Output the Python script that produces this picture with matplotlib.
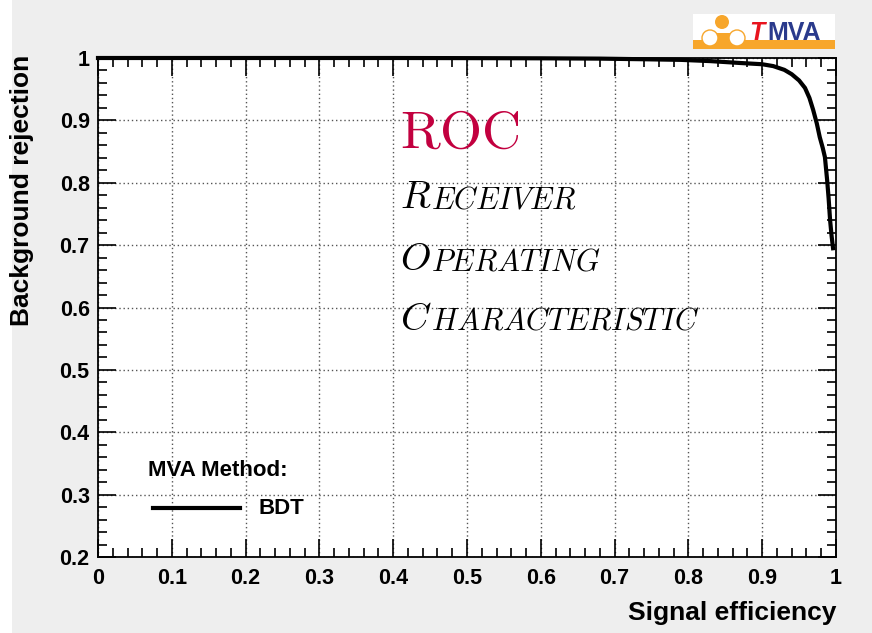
import numpy as np
import matplotlib
matplotlib.use("Agg")
import matplotlib.pyplot as plt
from matplotlib.patches import Rectangle, Circle
from matplotlib.ticker import MultipleLocator

# ROC curve of the BDT classifier
sig_eff = [0.0, 0.1, 0.2, 0.3, 0.4, 0.5, 0.6, 0.68, 0.74, 0.79, 0.83, 0.87,
           0.90, 0.915, 0.93, 0.94, 0.95, 0.958, 0.964, 0.969, 0.974, 0.978,
           0.982, 0.985, 0.988, 0.990, 0.992, 0.994, 0.996]
bkg_rej = [1.0, 1.0, 1.0, 1.0, 1.0, 0.9998, 0.9995, 0.999, 0.998, 0.997,
           0.995, 0.992, 0.990, 0.987, 0.981, 0.974, 0.964, 0.952, 0.936,
           0.917, 0.895, 0.873, 0.856, 0.841, 0.804, 0.775, 0.740, 0.715,
           0.695]
method_name = "BDT"

W, H = 872, 633
plt.rcParams["font.family"] = ["Liberation Sans", "DejaVu Sans"]
plt.rcParams["font.weight"] = "bold"
plt.rcParams["mathtext.fontset"] = "cm"

fig = plt.figure(figsize=(W / 100, H / 100), dpi=100, facecolor="#eeeeee")


def px(x, y):
    return x / W, 1 - y / H


# white strip on the left edge
fig.patches.append(Rectangle((0, 0), 12 / W, 1, transform=fig.transFigure,
                             facecolor="white", edgecolor="none"))

ax = fig.add_axes([98 / W, 1 - 557 / H, 738 / W, 499 / H])
ax.set_xlim(0, 1)
ax.set_ylim(0.2, 1)

ax.plot(sig_eff, bkg_rej, color="black", lw=3, clip_on=False, zorder=5)

ax.xaxis.set_major_locator(MultipleLocator(0.1))
ax.xaxis.set_minor_locator(MultipleLocator(0.02))
ax.yaxis.set_major_locator(MultipleLocator(0.1))
ax.yaxis.set_minor_locator(MultipleLocator(0.02))
ax.tick_params(which="both", direction="in", top=True, right=True,
               width=1.2, labelsize=15.5)
ax.tick_params(which="major", length=13, pad=6)
ax.tick_params(axis="x", which="major", pad=8)
ax.tick_params(which="minor", length=6.5)
ax.xaxis.set_major_formatter(lambda v, p: f"{v:g}")
ax.yaxis.set_major_formatter(lambda v, p: f"{v:g}")
for s in ax.spines.values():
    s.set_linewidth(1.3)
ax.grid(True, which="major", linestyle=(0, (1, 2)), color="#555555", lw=1)

fig.text(*px(836, 613), "Signal efficiency", ha="right", va="center",
         fontsize=19, fontweight="bold")
fig.text(*px(22, 55), "Background rejection", ha="center", va="top",
         rotation=90, fontsize=19, fontweight="bold")

# big title text in the middle
ax.text(0.409, 0.856, r"$\mathrm{ROC}$", color="#c2003f", fontsize=39,
        va="baseline", ha="left")
words = [("R", "ECEIVER", 0.7595), ("O", "PERATING", 0.660),
         ("C", "HARACTERISTIC", 0.564)]
for big, small, yb in words:
    t = ax.text(0.409, yb, r"$\mathit{%s}$" % big, fontsize=28,
                va="baseline", ha="left")
    ax.annotate(r"$\mathit{%s}$" % small, xy=(1, yb), xycoords=(t, "data"),
                fontsize=22, va="baseline", ha="left")

# legend
fig.text(*px(148, 471), "MVA Method:", ha="left", va="center", fontsize=16)
ax.plot([0.0745, 0.1924], [0.279, 0.279], color="black", lw=3, clip_on=False)
fig.text(*px(258, 508), method_name, ha="left", va="center", fontsize=16)

# TMVA logo
orange = "#f7a62b"
lax = fig.add_axes([693 / W, 1 - 49 / H, 142 / W, 35 / H])
lax.set_xlim(0, 142)
lax.set_ylim(35, 0)
lax.axis("off")
lax.add_patch(Rectangle((0, 0), 142, 35, facecolor="white", edgecolor="none"))
lax.add_patch(Rectangle((0, 26), 142, 9, facecolor=orange, edgecolor="none"))
lax.add_patch(Rectangle((17, 19), 27, 7, facecolor=orange, edgecolor="none"))
lax.add_patch(Circle((29, 8), 7, facecolor=orange, edgecolor="none"))
lax.add_patch(Circle((17, 24), 8, facecolor="white", edgecolor=orange, lw=1))
lax.add_patch(Circle((44, 24), 8, facecolor="white", edgecolor=orange, lw=1))
lax.text(56, 19, "T", color="#e8141e", fontsize=18, fontstyle="italic",
         fontweight="bold", va="center", ha="left")
lax.text(74, 19, "MVA", color="#2a3a8c", fontsize=18, fontweight="bold",
         va="center", ha="left")

fig.savefig("out.png", dpi=100, facecolor=fig.get_facecolor())
